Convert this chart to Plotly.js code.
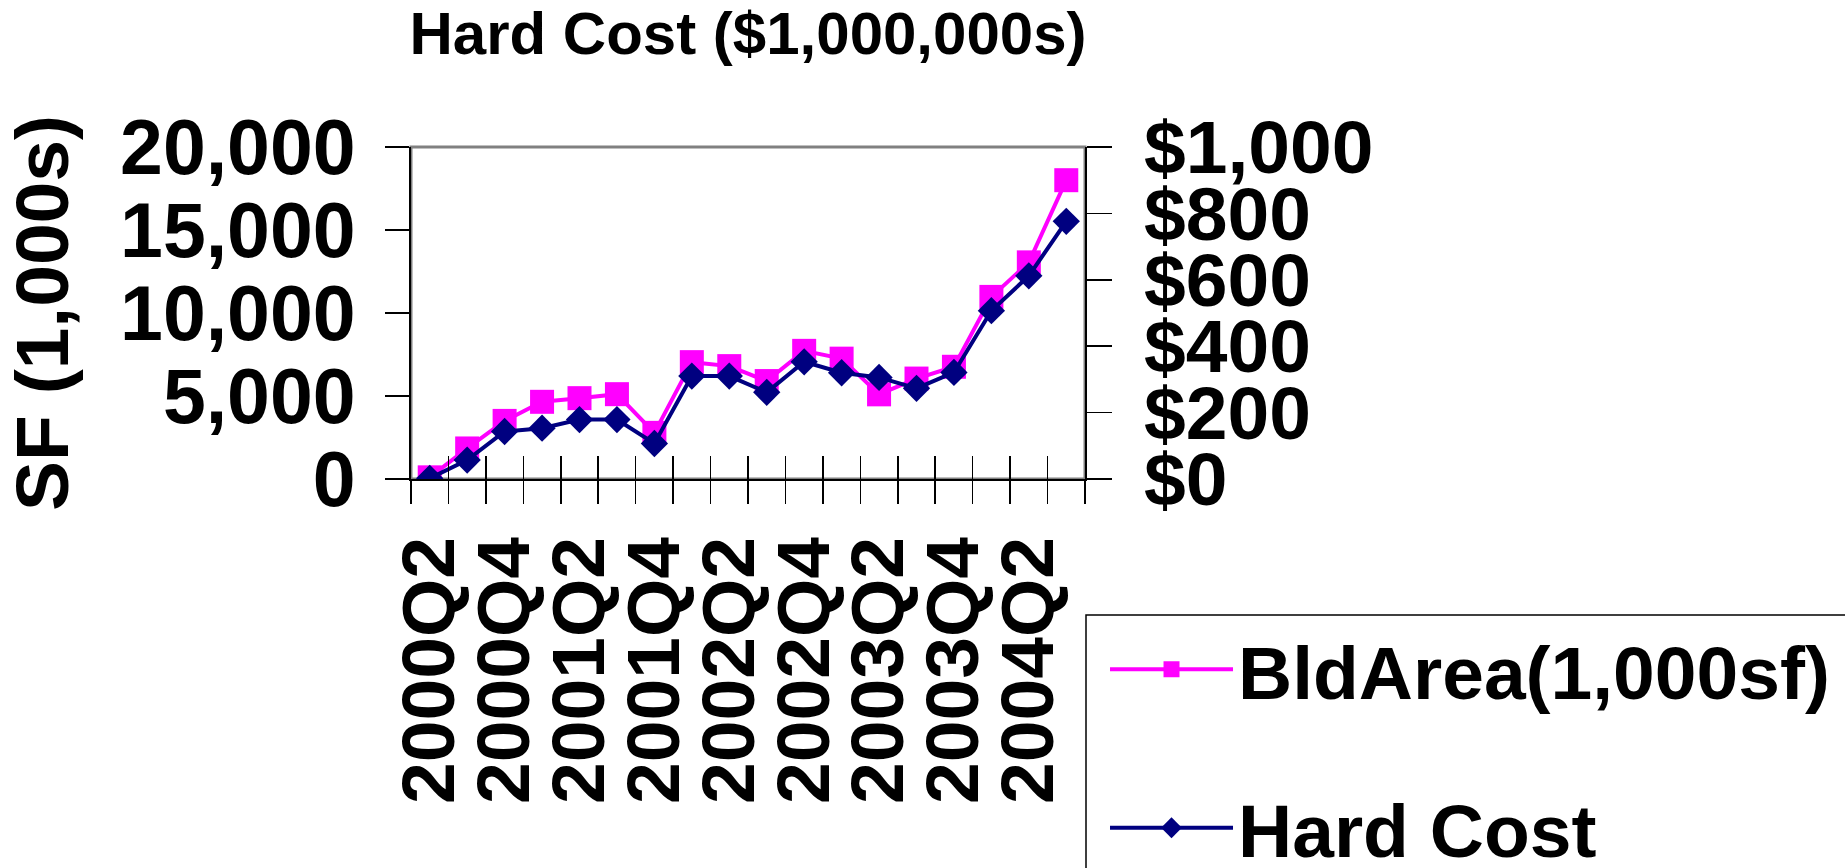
<!DOCTYPE html>
<html><head><meta charset="utf-8">
<script src="https://cdn.plot.ly/plotly-3.0.1.min.js"></script>
<style>html,body{margin:0;padding:0;background:#fff;overflow:hidden}</style>
</head><body><div id="chart" style="width:1845px;height:868px"></div>
<script>
const quarters = ['2000Q2','2000Q3','2000Q4','2001Q1','2001Q2','2001Q3','2001Q4','2002Q1','2002Q2','2002Q3','2002Q4','2003Q1','2003Q2','2003Q3','2003Q4','2004Q1','2004Q2','2004Q3'];
const labeledQuarters = ['2000Q2','2000Q4','2001Q2','2001Q4','2002Q2','2002Q4','2003Q2','2003Q4','2004Q2'];
const bldArea = [100,1840,3500,4650,4870,5110,2780,7040,6800,5900,7720,7250,5100,6050,6760,10970,13050,18000];
const hardCost = [2,57,143,153,179,179,107,310,310,261,353,320,306,273,321,507,612,776];
const seriesNames = ['BldArea(1,000sf)','Hard Cost'];
const leftTicks = [0,5000,10000,15000,20000];
const rightTicks = [0,200,400,600,800,1000];
const rightTickLabels = ['$0','$200','$400','$600','$800','$1,000'];
const chartTitle = 'Hard Cost ($1,000,000s)';
const leftTitle = 'SF (1,000s)';

const FONT = 'Liberation Sans, Arial, sans-serif';
const tickText = quarters.map(q => labeledQuarters.includes(q) ? q : '');

const traces = [
  {
    x: quarters, y: bldArea, name: seriesNames[0], type: 'scatter', mode: 'lines+markers',
    xaxis: 'x', yaxis: 'y', legendgroup: 'a',
    line: {color: '#FF00FF', width: 4},
    marker: {symbol: 'square', size: 24, color: '#FF00FF'},
    hoverinfo: 'x+y'
  },
  {
    x: quarters, y: hardCost, name: seriesNames[1], type: 'scatter', mode: 'lines+markers',
    xaxis: 'x2', yaxis: 'y2', legendgroup: 'b',
    line: {color: '#000080', width: 4},
    marker: {symbol: 'diamond', size: 21, color: '#000080'},
    hoverinfo: 'x+y'
  }
];

const tickFont = {family: FONT, size: 75, color: '#000', weight: 700};

const layout = {
  width: 1845, height: 868, autosize: false,
  margin: {l: 411, r: 760, t: 147, b: 389, pad: 0, autoexpand: false},
  paper_bgcolor: '#fff', plot_bgcolor: '#fff',
  font: {family: FONT, color: '#000', weight: 700},
  title: {
    text: chartTitle, font: {family: FONT, size: 60, color: '#000', weight: 700},
    x: 0.5, xref: 'paper', xanchor: 'center', y: 1 - 33/868, yref: 'container', yanchor: 'middle'
  },
  showlegend: true,
  legend: {
    x: 1.0015, xanchor: 'left', y: (479 - 614) / 332, yanchor: 'top',
    bgcolor: 'rgba(0,0,0,0)', borderwidth: 0,
    font: {family: FONT, size: 75, color: '#000', weight: 700},
    itemwidth: 123, indentation: 19, tracegroupgap: 58
  },
  xaxis: {
    type: 'category', range: [-0.5, 17.5], tickson: 'boundaries',
    tickmode: 'array', tickvals: quarters, ticktext: tickText,
    ticks: 'outside', ticklen: 23, tickwidth: 1.5, tickcolor: '#000',
    tickangle: -90, tickfont: tickFont, ticklabelstandoff: 26,
    showline: true, linecolor: '#000', linewidth: 2,
    showgrid: false, zeroline: false, fixedrange: true
  },
  xaxis2: {
    type: 'category', overlaying: 'x', anchor: 'y2', side: 'bottom',
    range: [-0.5, 17.5], tickson: 'boundaries',
    tickmode: 'array', tickvals: quarters,
    ticks: 'inside', ticklen: 23, tickwidth: 1.5, tickcolor: '#000',
    showticklabels: false, showline: false, showgrid: false, zeroline: false, fixedrange: true
  },
  yaxis: {
    range: [0, 20000], tickmode: 'array', tickvals: leftTicks, tickformat: ',',
    ticks: 'outside', ticklen: 24, tickwidth: 1.5, tickcolor: '#000',
    tickfont: {family: FONT, size: 77, color: '#000', weight: 700}, ticklabelstandoff: 14,
    showline: true, linecolor: '#000', linewidth: 2,
    showgrid: false, zeroline: false, fixedrange: true,
    title: {text: leftTitle, standoff: 29, font: {family: FONT, size: 75, color: '#000', weight: 700}}
  },
  yaxis2: {
    overlaying: 'y', side: 'right', anchor: 'x2',
    range: [0, 1000], tickmode: 'array', tickvals: rightTicks, ticktext: rightTickLabels,
    ticks: 'outside', ticklen: 25, tickwidth: 1.5, tickcolor: '#000',
    tickfont: tickFont, ticklabelstandoff: 17,
    showline: true, linecolor: '#000', linewidth: 2,
    showgrid: false, zeroline: false, fixedrange: true
  },
  yaxis3: {
    overlaying: 'y', side: 'left', anchor: 'x',
    range: [0, 20000], tickmode: 'array', tickvals: leftTicks,
    ticks: 'inside', ticklen: 24, tickwidth: 1.5, tickcolor: '#000',
    showticklabels: false, showline: false, showgrid: false, zeroline: false, fixedrange: true
  },
  yaxis4: {
    overlaying: 'y', side: 'right', anchor: 'x',
    range: [0, 1000], tickmode: 'array', tickvals: rightTicks,
    ticks: 'inside', ticklen: 25, tickwidth: 1.5, tickcolor: '#000',
    showticklabels: false, showline: false, showgrid: false, zeroline: false, fixedrange: true
  },
  shapes: [
    {
      type: 'rect', xref: 'paper', yref: 'paper', x0: 0, x1: 1, y0: 0, y1: 1,
      line: {color: '#808080', width: 3}, layer: 'below'
    },
    {
      type: 'rect', xref: 'paper', yref: 'paper',
      x0: (1086 - 411) / 674, x1: (1900 - 411) / 674,
      y0: (479 - 615) / 332, y1: (479 - 900) / 332,
      line: {color: '#000', width: 1.5}, fillcolor: 'rgba(0,0,0,0)', layer: 'below'
    }
  ]
};

Plotly.newPlot('chart', traces, layout, {displayModeBar: false, staticPlot: true});
</script>
</body></html>
